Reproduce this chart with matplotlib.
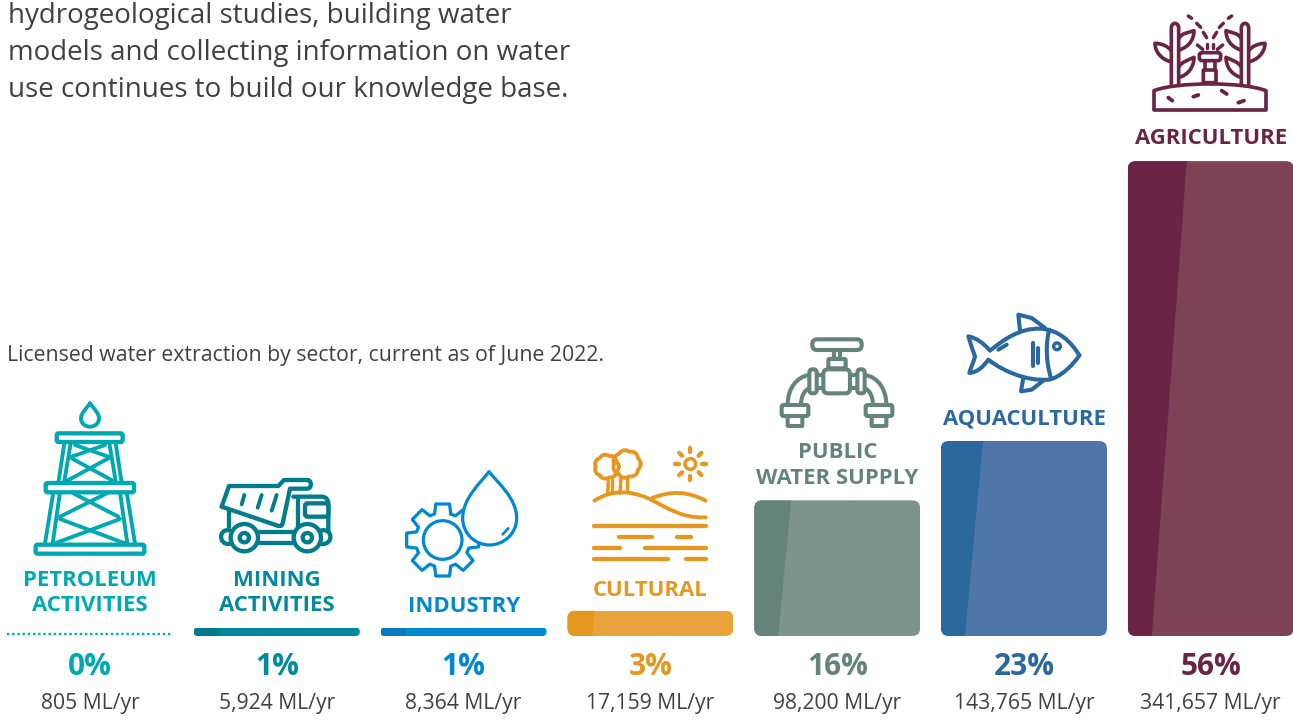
import matplotlib
matplotlib.use('Agg')
import matplotlib.pyplot as plt
import numpy as np
from matplotlib.patches import Circle, FancyBboxPatch, PathPatch
from matplotlib.path import Path

plt.rcParams['font.family'] = ['Open Sans', 'DejaVu Sans']

# data
sectors = ['PETROLEUM\nACTIVITIES', 'MINING\nACTIVITIES', 'INDUSTRY', 'CULTURAL',
           'PUBLIC\nWATER SUPPLY', 'AQUACULTURE', 'AGRICULTURE']
percent = [0, 1, 1, 3, 16, 23, 56]
volume = [805, 5924, 8364, 17159, 98200, 143765, 341657]

light_cols = ['#00A9B1', '#008A9B', '#0089CF', '#E9A33B', '#7B948C', '#4E76A9', '#7E4257']
dark_cols = ['#00A9B1', '#007C8A', '#0079C0', '#E5971F', '#64847B', '#2B689E', '#6A2444']
text_cols = ['#00A9B1', '#008A9B', '#0089CF', '#E5971F', '#64847B', '#2B689E', '#6A2444']
TEXT = '#404040'

intro = ['hydrogeological studies, building water',
         'models and collecting information on water',
         'use continues to build our knowledge base.']
subtitle = 'Licensed water extraction by sector, current as of June 2022.'

W, H = 1293, 726
BASE = 636          # baseline of the bars, in pixels
PX_PCT = 8.48       # pixels per percent
X0, STEP = 90.0, 186.8  # first bar centre and bar spacing, in pixels
BAR_W = 166 / STEP
STROKE = 0.31       # icon stroke units to points

fig = plt.figure(figsize=(W / 100, H / 100), dpi=100)
ax = fig.add_axes([0, 0, 1, 1])
ax.set_xlim(-X0 / STEP, (W - X0) / STEP)
ax.set_ylim(-(H - BASE) / PX_PCT, BASE / PX_PCT)
ax.axis('off')

ov = fig.add_axes([0, 0, 1, 1])
ov.set_xlim(0, W)
ov.set_ylim(H, 0)
ov.axis('off')
ov.patch.set_alpha(0)

# bars, with rounded corners and the darker slanted stripe on the left
stripe_top = [0, 25, 25, 27, 37, 42, 59]
stripe_bottom = [0, 25, 25, 25, 24, 24, 24]
xs = np.arange(len(percent))
bars = ax.bar(xs, percent, width=BAR_W, color=light_cols, linewidth=0)
for i, b in enumerate(bars):
    if percent[i] == 0:
        ax.plot([i - BAR_W / 2, i + BAR_W / 2], [0.2, 0.2], color=light_cols[i],
                lw=1.7, linestyle=(0, (1, 1.2)))
        continue
    h_px = percent[i] * PX_PCT
    r = min(8, h_px / 2) / STEP
    clip = FancyBboxPatch((b.get_x(), 0), b.get_width(), percent[i],
                          boxstyle='round,pad=0,rounding_size=%f' % r,
                          mutation_aspect=STEP / PX_PCT, transform=ax.transData)
    b.set_clip_path(clip)
    left = b.get_x()
    st = ax.fill([left, left + stripe_top[i] / STEP, left + stripe_bottom[i] / STEP, left],
                 [percent[i], percent[i], 0, 0], color=dark_cols[i], lw=0)[0]
    st.set_clip_path(clip)

# text
for i, line in enumerate(intro):
    ov.text(8, 16 + 37 * i, line, fontsize=20, color=TEXT, va='center', ha='left')
ov.text(7, 355, subtitle, fontsize=15.3, color=TEXT, va='center', ha='left')

label_y = [580, 580, 606, 590, 453, 419, 138]
for i, name in enumerate(sectors):
    cx = X0 + STEP * i
    for j, line in enumerate(name.split('\n')):
        ov.text(cx, label_y[i] + 25.5 * j, line, color=text_cols[i],
                fontsize=15.9, fontweight='bold', ha='center', va='center')
    ov.text(cx, 667, '%d%%' % percent[i], color=text_cols[i],
            fontsize=21.5, fontweight='bold', ha='center', va='center')
    ov.text(cx, 703, '{:,} ML/yr'.format(volume[i]), color=TEXT, fontsize=15.2,
            ha='center', va='center')


# icon helpers, coordinates are in 3x crops of the icon
def curve(ox, oy, col, lw, start, segs, closed=False, face='none', z=3):
    verts = [start]
    codes = [Path.MOVETO]
    for s in segs:
        verts.extend(s)
        codes.extend([Path.CURVE4] * 3 if len(s) == 3 else [Path.LINETO])
    if closed:
        verts.append(start)
        codes.append(Path.CLOSEPOLY)
    verts = [(ox + x / 3, oy + y / 3) for x, y in verts]
    ov.add_patch(PathPatch(Path(verts, codes), fc=face, ec=col, lw=lw * STROKE,
                           capstyle='round', joinstyle='round', zorder=z))


def seg(ox, oy, col, lw, *pts):
    ov.plot([ox + p[0] / 3 for p in pts], [oy + p[1] / 3 for p in pts], color=col,
            lw=lw * STROKE, solid_capstyle='round', solid_joinstyle='round', zorder=3)


def box(ox, oy, col, lw, x0, y0, x1, y1, r=6):
    ov.add_patch(FancyBboxPatch((ox + x0 / 3, oy + y0 / 3), (x1 - x0) / 3, (y1 - y0) / 3,
                                boxstyle='round,pad=0,rounding_size=%f' % (r / 3),
                                fc='white', ec=col, lw=lw * STROKE, zorder=3))


def ring(ox, oy, col, lw, x, y, r):
    ov.add_patch(Circle((ox + x / 3, oy + y / 3), r / 3, fc='white', ec=col,
                        lw=lw * STROKE, zorder=3))


def derrick(col):
    o = (30, 395)
    curve(*o, col, 9, (180, 25), [[(165, 45), (153, 55), (153, 70)], [(153, 85), (165, 95), (180, 95)],
                                  [(195, 95), (207, 85), (207, 70)], [(207, 55), (195, 45), (180, 25)]])
    for a, b in [((103, 145), (85, 264)), ((122, 145), (102, 264)), ((70, 292), (45, 445)), ((90, 292), (68, 445)),
                 ((135, 150), (235, 185)), ((225, 150), (125, 185)), ((125, 190), (250, 258)), ((235, 190), (110, 258)),
                 ((130, 295), (265, 365)), ((230, 295), (90, 365)), ((90, 372), (285, 445)), ((270, 372), (75, 445))]:
        seg(*o, col, 9, a, b)
    for a, b in [((103, 145), (85, 264)), ((122, 145), (102, 264)), ((70, 292), (45, 445)), ((90, 292), (68, 445))]:
        seg(*o, col, 9, (360 - a[0], a[1]), (360 - b[0], b[1]))
    box(*o, col, 10, 80, 115, 278, 141)
    box(*o, col, 10, 47, 264, 312, 292)
    box(*o, col, 10, 17, 449, 343, 476)


def truck(col):
    o = (210, 470)
    w = 10
    seg(*o, col, w, (35, 110), (57, 48), (205, 48), (222, 30), (292, 30))
    curve(*o, col, w, (292, 30), [[(306, 30), (306, 56), (292, 56)], [(240, 56)], [(218, 160)],
                                  [(215, 172), (205, 168), (200, 166)], [(35, 110)]])
    for a, b in [((103, 75), (95, 103)), ((155, 75), (143, 113)), ((200, 75), (185, 122))]:
        seg(*o, col, 9, a, b)
    curve(*o, col, w, (250, 80), [[(335, 80)], [(348, 80), (355, 90), (355, 100)], [(355, 185)]])
    box(*o, col, w, 285, 100, 355, 140, 8)
    seg(*o, col, w, (265, 85), (265, 172))
    seg(*o, col, w, (57, 120), (57, 172))
    seg(*o, col, w, (142, 187), (252, 187))
    seg(*o, col, w, (142, 220), (252, 220))
    curve(*o, col, w, (58, 181), [[(25, 175), (25, 225), (58, 222)]])
    curve(*o, col, w, (335, 181), [[(370, 175), (370, 225), (335, 222)]])
    for cx in (103, 292):
        ring(*o, col, w, cx, 203, 41)
        ring(*o, col, w, cx, 203, 14)


def gear_drop(col):
    o = (400, 465)
    w = 7.5
    cx, cy = 128, 225
    pts = []
    for k in range(8):
        a = np.pi / 2 + k * np.pi / 4
        for da, r in [(-0.30, 82), (-0.19, 110), (0.19, 110), (0.30, 82)]:
            pts.append((cx + r * np.cos(a + da), cy - r * np.sin(a + da)))
    pts.append(pts[0])
    seg(*o, col, w, *pts)
    ring(*o, col, w, cx, cy, 58)
    curve(*o, col, w, (267, 20), [[(240, 55), (188, 100), (188, 160)], [(188, 205), (225, 240), (268, 240)],
                                  [(312, 240), (350, 205), (350, 160)], [(350, 100), (295, 55), (267, 20)]],
          closed=True, face='white', z=4)
    ov.plot([400 + 308 / 3, 400 + 325 / 3], [465 + 208 / 3, 465 + 190 / 3], color=col, lw=1.9,
            solid_capstyle='round', zorder=5)


def landscape(col):
    o = (585, 440)
    w = 9
    for tx, ty, R in [(65, 80, 33), (125, 72, 38)]:
        t = np.linspace(0, 2 * np.pi, 120)
        rr = R * (1 + 0.10 * np.abs(np.cos(3.5 * t)))
        seg(*o, col, 9, *zip(tx + rr * np.cos(t), ty + rr * np.sin(t)))
    for a, b in [((70, 120), (68, 160)), ((83, 120), (82, 155)), ((108, 112), (105, 160)), ((125, 112), (125, 155))]:
        seg(*o, col, 8, a, b)
    curve(*o, col, w, (28, 182), [[(80, 150), (130, 150), (190, 175)], [(250, 205), (290, 235), (362, 232)]])
    curve(*o, col, w, (200, 175), [[(260, 150), (310, 155), (362, 182)]])
    for y, a, b in [(257, 28, 362), (291, 102, 202), (291, 275, 318), (325, 28, 105), (325, 180, 362),
                    (358, 28, 248), (358, 302, 362)]:
        seg(*o, col, 10, (a, y), (b, y))
    ring(*o, col, 8, 316, 72, 16)
    for k in range(8):
        a = k * np.pi / 4
        seg(*o, col, 10, (316 + 35 * np.cos(a), 72 + 35 * np.sin(a)), (316 + 47 * np.cos(a), 72 + 47 * np.sin(a)))


def tap(col):
    o = (775, 330)
    w = 9.5
    for sx in (0, 1):
        m = (lambda x: 372 - x) if sx else (lambda x: x)
        curve(*o, col, w, (m(103), 135), [[(m(65), 140), (m(38), 175), (m(38), 225)]])
        curve(*o, col, w, (m(103), 175), [[(m(88), 180), (m(78), 200), (m(78), 225)]])
        seg(*o, col, w, (m(125), 135), (m(145), 135))
        seg(*o, col, w, (m(125), 175), (m(145), 175))
        box(*o, col, w, min(m(103), m(125)), 118, max(m(103), m(125)), 190, 10)
        box(*o, col, w, min(m(38), m(82)), 258, max(m(38), m(82)), 288, 2)
        box(*o, col, w, min(m(20), m(100)), 225, max(m(20), m(100)), 258, 6)
    seg(*o, col, w, (178, 62), (178, 87))
    seg(*o, col, w, (194, 62), (194, 87))
    box(*o, col, w, 160, 87, 212, 115, 4)
    box(*o, col, w, 145, 118, 225, 190, 14)
    box(*o, col, w, 112, 28, 260, 60, 14)


def fish(col):
    o = (960, 308)
    w = 9.5
    curve(*o, col, w, (358, 142), [[(335, 105), (300, 65), (240, 62)], [(180, 60), (130, 95), (90, 128)],
                                   [(70, 105), (50, 90), (25, 85)], [(32, 110), (40, 130), (45, 145)],
                                   [(40, 165), (32, 180), (28, 195)], [(55, 192), (70, 175), (85, 155)],
                                   [(130, 190), (200, 220), (265, 215)], [(300, 210), (340, 170), (358, 142)]])
    curve(*o, col, w, (268, 65), [[(255, 110), (260, 170), (273, 210)]])
    ring(*o, col, 8, 291, 115, 10)
    seg(*o, col, w, (180, 68), (175, 20), (215, 30), (255, 60))
    seg(*o, col, w, (190, 210), (183, 250), (215, 245), (250, 218))
    seg(*o, col, w, (218, 105), (218, 175))
    seg(*o, col, w, (235, 120), (235, 165))
    seg(*o, col, w, (115, 125), (140, 110))


def sprinkler(col):
    o = (1110, 0)
    w = 8.5
    curve(*o, col, w, (132, 272), [[(200, 245), (400, 245), (468, 272)], [(468, 330)], [(132, 330)]], closed=True)
    for a, b in [((175, 293), (187, 302)), ((250, 290), (265, 285)), ((335, 272), (350, 282)), ((385, 308), (402, 302))]:
        seg(*o, col, 9, a, b)
    for sx in (0, 1):
        m = (lambda x: 600 - x) if sx else (lambda x: x)
        curve(*o, col, w, (m(184), 252), [[(m(184), 85)], [(m(184), 65), (m(206), 65), (m(206), 85)], [(m(206), 252)]])
        curve(*o, col, w, (m(207), 115), [[(m(215), 98), (m(240), 97), (m(252), 92)], [(m(252), 115), (m(240), 140), (m(207), 150)]])
        curve(*o, col, w, (m(207), 200), [[(m(215), 185), (m(240), 178), (m(252), 172)], [(m(252), 200), (m(235), 225), (m(207), 232)]])
        curve(*o, col, w, (m(182), 185), [[(m(160), 180), (m(135), 160), (m(135), 130)], [(m(155), 130), (m(175), 140), (m(182), 150)]])
        for a, b in [((235, 48), (245, 55)), ((260, 70), (272, 82)), ((280, 97), (290, 113)), ((262, 135), (278, 148)), ((292, 132), (292, 143))]:
            seg(*o, col, 8, (m(a[0]), a[1]), (m(b[0]), b[1]))
    box(*o, col, w, 268, 158, 332, 182, 8)
    seg(*o, col, w, (285, 185), (285, 210))
    seg(*o, col, w, (315, 185), (315, 210))
    box(*o, col, w, 280, 210, 318, 248, 2)


derrick(light_cols[0])
truck(dark_cols[1])
gear_drop(light_cols[2])
landscape(dark_cols[3])
tap(dark_cols[4])
fish(dark_cols[5])
sprinkler(dark_cols[6])

fig.savefig('out.png', dpi=100)
